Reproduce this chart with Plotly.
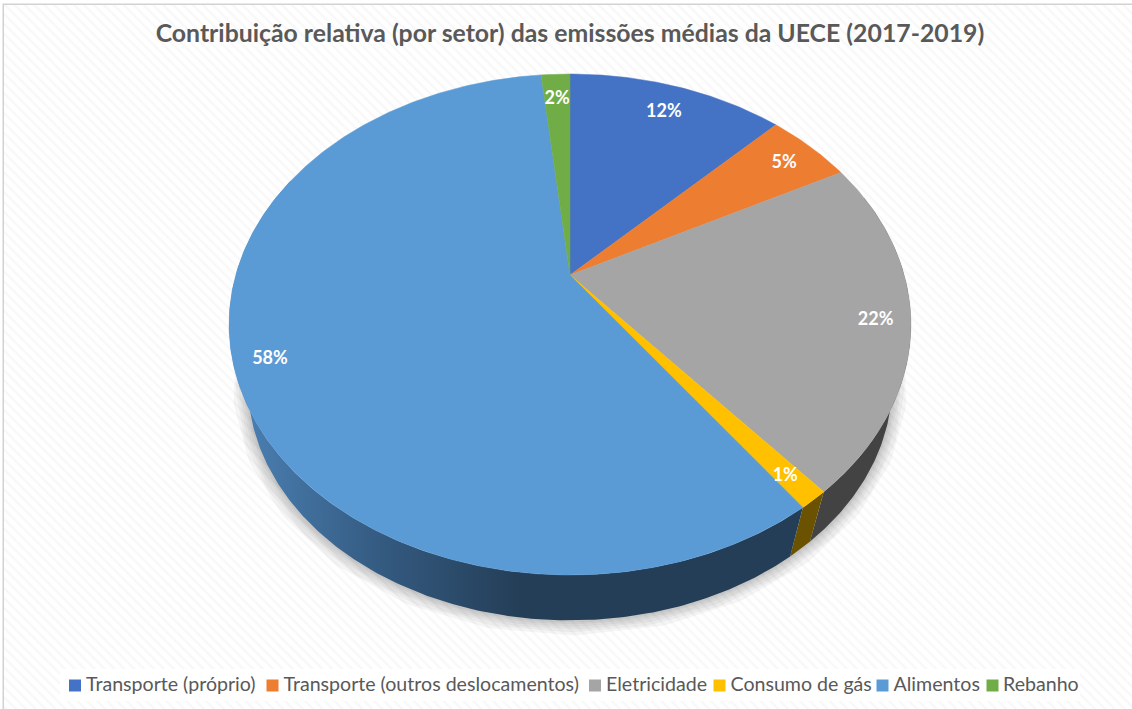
import numpy as np
import plotly.graph_objects as go

# ---- data ----
categories = ["Transporte (próprio)", "Transporte (outros deslocamentos)", "Eletricidade",
              "Consumo de gás", "Alimentos", "Rebanho"]
values = [12.4, 4.9, 21.55, 1.2, 58.3, 1.65]
top_colors = ["#4472C4", "#ED7D31", "#A5A5A5", "#FFC000", "#5B9BD5", "#70AD47"]
side_colors = ["#29447A", "#8E4B1D", "#434343", "#6B5200", "#243E57", "#436829"]
title_text = "Contribuição relativa (por setor) das emissões médias da UECE (2017-2019)"

# ---- geometry of the tilted pie (perspective projection of a disc) ----
CX, CY, A, B, K = 570.0, 275.0, 334.2, 240.7, 0.1976
DEPTH_SCALE, VANISH_Y = 0.945, 1400.0
label_r = np.array([0.855, 0.88, 0.90, 0.90, 0.90, 0.87])
label_dy = 2.5
swatch_x = [75, 272.5, 595, 719.5, 882.5, 992.5]
text_x = [86, 283.5, 606, 730.5, 893.5, 1003]
swatch_y, text_y = 685.5, 686


def project(theta, r=1.0):
    u, v = r * np.sin(theta), r * np.cos(theta)
    d = 1 + K * v
    return CX + A * u / d, CY - B * v / d


def lower(x, y):
    return CX + (x - CX) * DEPTH_SCALE, VANISH_Y + (y - VANISH_Y) * DEPTH_SCALE


def arc(t0, t1):
    n = max(3, int(abs(t1 - t0) / 0.01))
    return np.linspace(t0, t1, n)


total = sum(values)
edges = np.concatenate([[0], np.cumsum(values)]) / total * 2 * np.pi

fig = go.Figure()

# hatched chart-area background
fig.add_trace(go.Bar(x=[572], y=[710], base=[5], width=[1136], showlegend=False, hoverinfo="skip",
                     marker=dict(color="#ffffff", line=dict(color="#d2d2d2", width=1.5),
                                 pattern=dict(shape="\\", fgcolor="#f1f1f1", bgcolor="#ffffff",
                                              size=7, solidity=0.35))))

# legend plate
fig.add_trace(go.Scatter(x=[60, 1080, 1080, 60, 60], y=[669, 669, 701, 701, 669], mode="lines",
                         fill="toself", fillcolor="rgba(255,255,255,0.92)", line=dict(width=0),
                         showlegend=False, hoverinfo="skip"))

# soft shadow beneath the pie
ts = arc(np.radians(80), np.radians(285))
sx, sy = lower(*project(ts))
for w in [30, 24, 18, 13, 8, 4]:
    fig.add_trace(go.Scatter(x=sx, y=sy, mode="lines", showlegend=False, hoverinfo="skip",
                             line=dict(color="rgba(0,0,0,0.04)", width=w)))

# side walls
for i in range(len(values)):
    t0, t1 = max(edges[i], np.radians(70)), min(edges[i + 1], np.radians(295))
    if t1 <= t0:
        continue
    t = arc(t0, t1)
    xt, yt = project(t)
    xb, yb = lower(xt, yt)
    kw = {}
    if categories[i] == "Alimentos":
        kw["fillgradient"] = dict(type="horizontal", start=245, stop=520,
                                  colorscale=[[0, "#4A7FB2"], [0.5, "#345A80"], [1, "#243E57"]])
    else:
        kw["fillcolor"] = side_colors[i]
    fig.add_trace(go.Scatter(x=np.r_[xt, xb[::-1], xt[0]], y=np.r_[yt, yb[::-1], yt[0]],
                             mode="lines", fill="toself", line=dict(width=0),
                             showlegend=False, hoverinfo="skip", **kw))

# top faces
for i, name in enumerate(categories):
    t = arc(edges[i], edges[i + 1])
    xt, yt = project(t)
    fig.add_trace(go.Scatter(x=np.r_[CX, xt, CX], y=np.r_[CY, yt, CY], mode="lines", fill="toself",
                             fillcolor=top_colors[i], line=dict(width=0.5, color=top_colors[i]),
                             name=name, showlegend=False,
                             hovertemplate=f"{name}: {values[i]:.1f}%<extra></extra>"))

# percentage labels
mid = (edges[:-1] + edges[1:]) / 2
lx, ly = project(mid, label_r)
fig.add_trace(go.Scatter(x=lx, y=ly + label_dy, mode="text", text=[f"{v / total * 100:.0f}%" for v in values],
                         textposition="middle center", showlegend=False, hoverinfo="skip",
                         textfont=dict(family="Lato", size=18, color="#ffffff", weight="bold")))

# legend entries
fig.add_trace(go.Scatter(x=swatch_x, y=[swatch_y] * 6, mode="markers", showlegend=False, hoverinfo="skip",
                         marker=dict(symbol="square", size=12, color=top_colors)))
fig.add_trace(go.Scatter(x=text_x, y=[text_y] * 6, mode="text", text=categories,
                         textposition="middle right", showlegend=False, hoverinfo="skip",
                         textfont=dict(family="Lato", size=19.6, color="#595959")))

fig.update_layout(
    width=1132, height=709, margin=dict(l=0, r=0, t=0, b=0), bargap=0,
    paper_bgcolor="#ffffff", plot_bgcolor="#ffffff", showlegend=False,
    title=dict(text=title_text, x=0.5035, xanchor="center", y=0.953, yanchor="middle",
               font=dict(family="Lato", size=24.8, color="#595959", weight="bold")),
    xaxis=dict(range=[0, 1132], visible=False, fixedrange=True),
    yaxis=dict(range=[709, 0], visible=False, fixedrange=True),
)
fig.write_html("out.html", config={"displayModeBar": False},
               post_script="document.body.style.margin='0';")
